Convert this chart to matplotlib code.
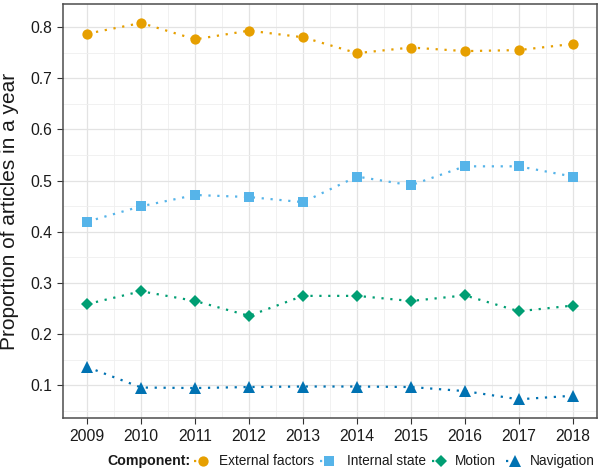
import matplotlib
matplotlib.use("Agg")
import matplotlib.pyplot as plt
from matplotlib.lines import Line2D
import numpy as np

years = [2009, 2010, 2011, 2012, 2013, 2014, 2015, 2016, 2017, 2018]
external = [0.787, 0.808, 0.776, 0.793, 0.780, 0.749, 0.760, 0.753, 0.755, 0.767]
internal = [0.420, 0.450, 0.472, 0.468, 0.458, 0.508, 0.491, 0.528, 0.528, 0.508]
motion = [0.259, 0.284, 0.265, 0.236, 0.275, 0.275, 0.265, 0.276, 0.245, 0.256]
navigation = [0.136, 0.096, 0.095, 0.097, 0.098, 0.098, 0.097, 0.089, 0.073, 0.080]

series = [
    ("External factors", external, "#E69F00", "o", 7.4),
    ("Internal state", internal, "#56B4E9", "s", 6.6),
    ("Motion", motion, "#009E73", "D", 6.4),
    ("Navigation", navigation, "#0072B2", "^", 8.7),
]

plt.rcParams['font.family'] = ['Liberation Sans', 'DejaVu Sans']
W, H = 602, 471
fig = plt.figure(figsize=(W/100, H/100), dpi=100)
ax = fig.add_axes([63/W, 1-418/H, (597-63)/W, (418-4)/H])

dots = (0, (1, 3))
for name, vals, col, mk, ms in series:
    ax.plot(years, vals, linestyle=dots, color=col, linewidth=1.6,
            marker=mk, markersize=ms, markeredgewidth=0, label=name)

ax.set_xlim(2008.55, 2018.45)
ax.set_ylim(0.0365, 0.845)
ax.set_xticks(years)
ax.set_xticks(np.arange(2009.5, 2018, 1.0), minor=True)
ax.set_yticks([0.1, 0.2, 0.3, 0.4, 0.5, 0.6, 0.7, 0.8])
ax.set_yticks([0.05, 0.15, 0.25, 0.35, 0.45, 0.55, 0.65, 0.75], minor=True)
ax.set_yticklabels(["0.1", "0.2", "0.3", "0.4", "0.5", "0.6", "0.7", "0.8"])
ax.grid(which='major', color='#e3e3e3', linewidth=0.9)
ax.grid(which='minor', color='#efefef', linewidth=0.6)
ax.set_axisbelow(True)
ax.tick_params(which='minor', length=0)
ax.tick_params(which='major', length=4, color='#333333', labelsize=11.3, labelcolor='#1a1a1a', pad=4)
for s in ax.spines.values():
    s.set_color('#4d4d4d')
    s.set_linewidth(1.1)
ax.set_ylabel("Proportion of articles in a year", fontsize=15, color='#1a1a1a', labelpad=8)

# legend drawn manually in figure pixel coordinates
ly = 1 - 461/H
fig.text(107/W, ly, "Component:", fontsize=10.2, fontweight='bold', va='center', ha='left', color='#1a1a1a')
marker_x = [203, 329, 441, 515]
text_x = [219, 347, 455, 530]
for (name, _, col, mk, ms), mx, tx in zip(series, marker_x, text_x):
    fig.add_artist(Line2D([(mx-9)/W, mx/W], [ly, ly], transform=fig.transFigure,
                          linestyle=dots, color=col, linewidth=1.6))
    fig.add_artist(Line2D([mx/W], [ly], transform=fig.transFigure, marker=mk,
                          markersize=ms, markeredgewidth=0, color=col, linestyle='none'))
    fig.text(tx/W, ly, name, fontsize=9.8, va='center', ha='left', color='#1a1a1a')

fig.savefig("out.png", dpi=100)
